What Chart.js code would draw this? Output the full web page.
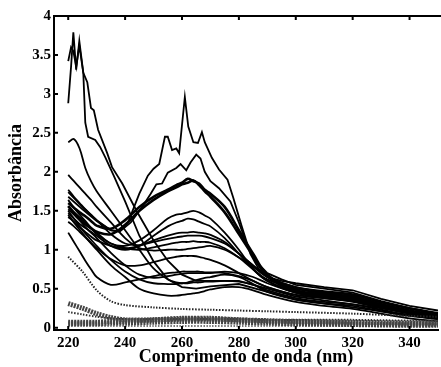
<!DOCTYPE html>
<html>
<head>
<meta charset="utf-8">
<script src="https://cdn.jsdelivr.net/npm/chart.js@4/dist/chart.umd.min.js"></script>
<style>
  body { margin: 0; background: #fff; }
  #wrap { width: 441px; height: 367px; }
</style>
</head>
<body>
<div id="wrap"><canvas id="myChart" width="441" height="367"></canvas></div>
<script>
// eixo x (nm) e rótulos dos ticks
const xTicks = [220, 240, 260, 280, 300, 320, 340];
const yTicks = [0, 0.5, 1, 1.5, 2, 2.5, 3, 3.5, 4];
const yTickLabels = ['0', '0.5', '1', '1.5', '2', '2.5', '3', '3.5', '4'];

// grade comum para os espectros suaves
const wl = [220, 222, 224, 226, 228, 230, 235, 240, 245, 250, 255, 258, 260, 262, 264, 266, 268, 270, 275, 280, 285, 290, 300, 310, 320, 330, 340, 350];

const a03 = [2.38, 2.42, 2.30, 2.05, 1.88, 1.75, 1.50, 1.25, 1.00, 0.76, 0.62, 0.58, 0.57, 0.58, 0.60, 0.62, 0.64, 0.65, 0.68, 0.65, 0.56, 0.46, 0.36, 0.31, 0.28, 0.21, 0.15, 0.11];
const a06 = [1.60, 1.54, 1.48, 1.43, 1.37, 1.31, 1.27, 1.38, 1.55, 1.68, 1.77, 1.83, 1.86, 1.91, 1.88, 1.85, 1.77, 1.72, 1.55, 1.25, 0.95, 0.68, 0.48, 0.43, 0.40, 0.30, 0.22, 0.16];
const a07 = [1.56, 1.48, 1.41, 1.34, 1.28, 1.23, 1.20, 1.32, 1.50, 1.64, 1.75, 1.80, 1.84, 1.86, 1.89, 1.83, 1.75, 1.68, 1.48, 1.20, 0.92, 0.66, 0.46, 0.41, 0.38, 0.28, 0.20, 0.14];
const a08 = [1.52, 1.45, 1.38, 1.32, 1.27, 1.22, 1.08, 1.05, 1.12, 1.25, 1.40, 1.45, 1.46, 1.48, 1.50, 1.48, 1.44, 1.40, 1.22, 1.00, 0.75, 0.60, 0.45, 0.40, 0.37, 0.28, 0.20, 0.13];
const a09 = [1.47, 1.40, 1.33, 1.28, 1.23, 1.18, 1.05, 1.00, 1.05, 1.18, 1.30, 1.35, 1.37, 1.40, 1.39, 1.36, 1.33, 1.30, 1.15, 0.95, 0.75, 0.60, 0.45, 0.38, 0.34, 0.26, 0.18, 0.12];
const a10 = [1.42, 1.36, 1.29, 1.23, 1.17, 1.12, 1.05, 1.02, 1.05, 1.12, 1.18, 1.21, 1.22, 1.22, 1.23, 1.22, 1.21, 1.19, 1.10, 0.95, 0.80, 0.65, 0.50, 0.45, 0.42, 0.32, 0.24, 0.17];
const a11 = [1.64, 1.54, 1.45, 1.37, 1.28, 1.20, 1.08, 1.02, 1.00, 1.03, 1.07, 1.09, 1.10, 1.10, 1.11, 1.10, 1.10, 1.09, 1.02, 0.90, 0.75, 0.62, 0.50, 0.44, 0.40, 0.30, 0.22, 0.15];
const a12 = [1.36, 1.30, 1.23, 1.16, 1.09, 1.02, 0.88, 0.80, 0.80, 0.84, 0.89, 0.91, 0.92, 0.92, 0.92, 0.91, 0.89, 0.87, 0.80, 0.70, 0.60, 0.52, 0.42, 0.38, 0.35, 0.27, 0.19, 0.12];
const a13 = [1.22, 1.10, 0.98, 0.86, 0.75, 0.65, 0.55, 0.58, 0.62, 0.66, 0.70, 0.71, 0.72, 0.72, 0.72, 0.72, 0.71, 0.71, 0.70, 0.66, 0.60, 0.52, 0.42, 0.38, 0.33, 0.25, 0.18, 0.12];
const a14 = [1.56, 1.47, 1.38, 1.29, 1.22, 1.15, 0.96, 0.80, 0.68, 0.64, 0.66, 0.68, 0.69, 0.70, 0.70, 0.70, 0.70, 0.70, 0.72, 0.70, 0.65, 0.57, 0.45, 0.40, 0.36, 0.27, 0.19, 0.13];
const a15 = [1.50, 1.40, 1.30, 1.21, 1.13, 1.05, 0.87, 0.72, 0.62, 0.57, 0.56, 0.56, 0.57, 0.57, 0.58, 0.58, 0.59, 0.59, 0.60, 0.59, 0.55, 0.48, 0.38, 0.33, 0.30, 0.23, 0.16, 0.11];
const a16 = [1.45, 1.35, 1.26, 1.17, 1.08, 1.00, 0.80, 0.65, 0.50, 0.44, 0.41, 0.41, 0.42, 0.43, 0.44, 0.45, 0.47, 0.49, 0.52, 0.52, 0.48, 0.42, 0.33, 0.28, 0.24, 0.18, 0.12, 0.08];
const a17 = [1.96, 1.88, 1.80, 1.72, 1.64, 1.55, 1.35, 1.15, 1.02, 0.99, 1.00, 1.00, 1.00, 1.01, 1.02, 1.03, 1.04, 1.05, 1.00, 0.90, 0.78, 0.65, 0.52, 0.46, 0.42, 0.33, 0.25, 0.18];
const a18 = [1.77, 1.68, 1.60, 1.52, 1.45, 1.38, 1.20, 1.08, 1.06, 1.10, 1.14, 1.16, 1.17, 1.18, 1.18, 1.18, 1.17, 1.15, 1.08, 0.95, 0.80, 0.66, 0.52, 0.47, 0.43, 0.33, 0.25, 0.18];

// espectros com picos estreitos (cada um com seu eixo)
const wl01 = [220, 221, 221.8, 222.8, 223.9, 225.3, 226, 227, 229.5, 231.2, 233, 236, 240, 245, 250, 255, 260, 265, 270, 280, 290, 300, 320, 340, 350];
const a01 = [3.42, 3.60, 3.55, 3.35, 3.62, 3.27, 2.63, 2.45, 2.41, 2.32, 2.19, 1.95, 1.62, 1.18, 0.85, 0.62, 0.52, 0.50, 0.53, 0.56, 0.46, 0.36, 0.26, 0.16, 0.12];
const wl02 = [220, 221, 221.8, 222.8, 223.9, 225.3, 226.7, 228, 229, 230.5, 233.7, 235.4, 239, 244, 250, 255, 260, 265, 270, 280, 290, 300, 320, 340, 350];
const a02 = [2.88, 3.35, 3.79, 3.31, 3.68, 3.27, 3.15, 2.82, 2.79, 2.54, 2.24, 2.06, 1.85, 1.50, 1.12, 0.86, 0.68, 0.60, 0.60, 0.60, 0.50, 0.40, 0.30, 0.20, 0.15];
const wl04 = [220, 225, 230, 235, 238, 241, 245, 248, 250, 252, 254, 255, 256.5, 258, 259, 261, 262.2, 264, 265.6, 267, 268, 270.5, 273, 276, 278, 281, 284, 287, 290, 295, 300, 310, 320, 330, 340, 350];
const a04 = [1.74, 1.55, 1.38, 1.25, 1.24, 1.35, 1.72, 1.95, 2.04, 2.10, 2.45, 2.45, 2.28, 2.30, 2.24, 2.96, 2.58, 2.38, 2.37, 2.51, 2.38, 2.18, 2.03, 1.90, 1.67, 1.30, 0.95, 0.75, 0.65, 0.60, 0.57, 0.52, 0.48, 0.37, 0.28, 0.22];
const wl05 = [220, 225, 230, 235, 238, 242, 246, 249, 251, 253, 255, 258, 259.5, 261.5, 263, 265, 266.5, 268, 270, 273, 277, 280, 283, 286, 290, 295, 300, 310, 320, 330, 340, 350];
const a05 = [1.68, 1.52, 1.37, 1.25, 1.23, 1.35, 1.55, 1.72, 1.84, 1.85, 1.99, 2.05, 2.10, 2.02, 2.12, 2.22, 2.17, 2.00, 1.88, 1.79, 1.62, 1.35, 1.05, 0.85, 0.70, 0.62, 0.55, 0.50, 0.45, 0.34, 0.25, 0.19];

// curvas pontilhadas e com marcadores (absorbância baixa)
const wlLow = [220, 225, 230, 235, 240, 250, 260, 270, 280, 290, 300, 320, 340, 350];
const dotA = [0.91, 0.72, 0.48, 0.34, 0.29, 0.26, 0.24, 0.23, 0.22, 0.21, 0.20, 0.18, 0.15, 0.14];
const dotB = [0.20, 0.17, 0.14, 0.12, 0.11, 0.11, 0.11, 0.11, 0.11, 0.10, 0.10, 0.10, 0.09, 0.09];
const dotC = [0.02, 0.02, 0.02, 0.02, 0.02, 0.02, 0.02, 0.02, 0.02, 0.02, 0.02, 0.02, 0.02, 0.02];
const mkA = [0.31, 0.25, 0.18, 0.13, 0.10, 0.10, 0.11, 0.11, 0.10, 0.09, 0.08, 0.07, 0.06, 0.06];
const mkB = [0.07, 0.07, 0.07, 0.08, 0.08, 0.10, 0.12, 0.12, 0.10, 0.08, 0.07, 0.05, 0.04, 0.04];
const mkC = [0.05, 0.05, 0.05, 0.06, 0.06, 0.07, 0.08, 0.08, 0.07, 0.06, 0.05, 0.04, 0.03, 0.03];

function pts(xs, ys) 
{
    return xs.map((x, i) => ({ x: x, y: ys[i] }));
}

function solid(xs, ys, w, t) 
{
    return { data: pts(xs, ys), borderColor: '#000', borderWidth: w, tension: t, pointRadius: 0 };
}

function dotted(ys, color) 
{
    return { data: pts(wlLow, ys), borderColor: color, borderWidth: 2, borderDash: [1.5, 1.5], tension: 0.3, pointRadius: 0 };
}

function marked(ys) 
{
    return { data: pts(wlLow, ys), borderColor: '#444', borderWidth: 5, borderDash: [2, 1], tension: 0.3, pointRadius: 0 };
}

const smoothLines = [a03, a08, a09, a10, a11, a12, a13, a14, a15, a16, a17, a18];

const datasets = [
    marked(mkA), marked(mkB), marked(mkC),
    dotted(dotA, '#222'), dotted(dotB, '#333'), dotted(dotC, '#777')
];
smoothLines.forEach(ys => datasets.push(solid(wl, ys, 1.8, 0.35)));
datasets.push(solid(wl, a06, 2.6, 0.35));
datasets.push(solid(wl, a07, 2.6, 0.35));
datasets.push(solid(wl01, a01, 1.8, 0));
datasets.push(solid(wl02, a02, 1.8, 0));
datasets.push(solid(wl04, a04, 1.8, 0));
datasets.push(solid(wl05, a05, 1.8, 0));

const serif = 'Liberation Serif';

// moldura superior e ticks para dentro
const framePlugin = {
    id: 'frame',
    afterDraw(chart) 
    {
        const ctx = chart.ctx;
        const area = chart.chartArea;
        const xs = chart.scales.x;
        const ys = chart.scales.y;
        ctx.save();
        ctx.strokeStyle = '#000';
        ctx.lineWidth = 2;
        ctx.beginPath();
        ctx.moveTo(area.left - 1, area.top);
        ctx.lineTo(area.right + 3, area.top);
        xTicks.forEach(v => {
            const px = xs.getPixelForValue(v);
            ctx.moveTo(px, area.top);
            ctx.lineTo(px, area.top + 4);
            ctx.moveTo(px, area.bottom);
            ctx.lineTo(px, area.bottom - 4);
        });
        yTicks.forEach(v => {
            const py = ys.getPixelForValue(v);
            ctx.moveTo(area.left, py);
            ctx.lineTo(area.left + 4, py);
        });
        ctx.stroke();
        ctx.restore();
    }
};

new Chart(document.getElementById('myChart'), {
    type: 'line',
    data: { datasets: datasets },
    options: {
        responsive: false,
        animation: false,
        layout: { padding: { top: 16, right: 3, left: 0, bottom: 0 } },
        plugins: { legend: { display: false }, tooltip: { enabled: false } },
        scales: {
            x: {
                type: 'linear',
                min: 215,
                max: 350,
                afterFit: s => { s.height = 37; },
                afterBuildTicks: s => { s.ticks = xTicks.map(v => ({ value: v })); },
                grid: { display: false, drawTicks: false },
                border: { display: true, color: '#000', width: 2 },
                ticks: {
                    padding: 4,
                    color: '#000',
                    maxRotation: 0,
                    font: { family: serif, size: 15, weight: 'bold' },
                    callback: v => String(v)
                },
                title: {
                    display: true,
                    text: 'Comprimento de onda (nm)',
                    color: '#000',
                    padding: { top: 0, bottom: -1 },
                    font: { family: serif, size: 18, weight: 'bold' }
                }
            },
            y: {
                type: 'linear',
                min: -0.03,
                max: 4,
                afterFit: s => { s.width = 54; },
                afterBuildTicks: s => { s.ticks = yTicks.map(v => ({ value: v })); },
                grid: { display: false, drawTicks: false },
                border: { display: true, color: '#000', width: 2 },
                ticks: {
                    padding: 3,
                    color: '#000',
                    font: { family: serif, size: 15, weight: 'bold' },
                    callback: (v, i) => yTickLabels[i]
                },
                title: {
                    display: true,
                    text: 'Absorbância',
                    color: '#000',
                    padding: { top: 6, bottom: 0 },
                    font: { family: serif, size: 18, weight: 'bold' }
                }
            }
        }
    },
    plugins: [framePlugin]
});
</script>
</body>
</html>
